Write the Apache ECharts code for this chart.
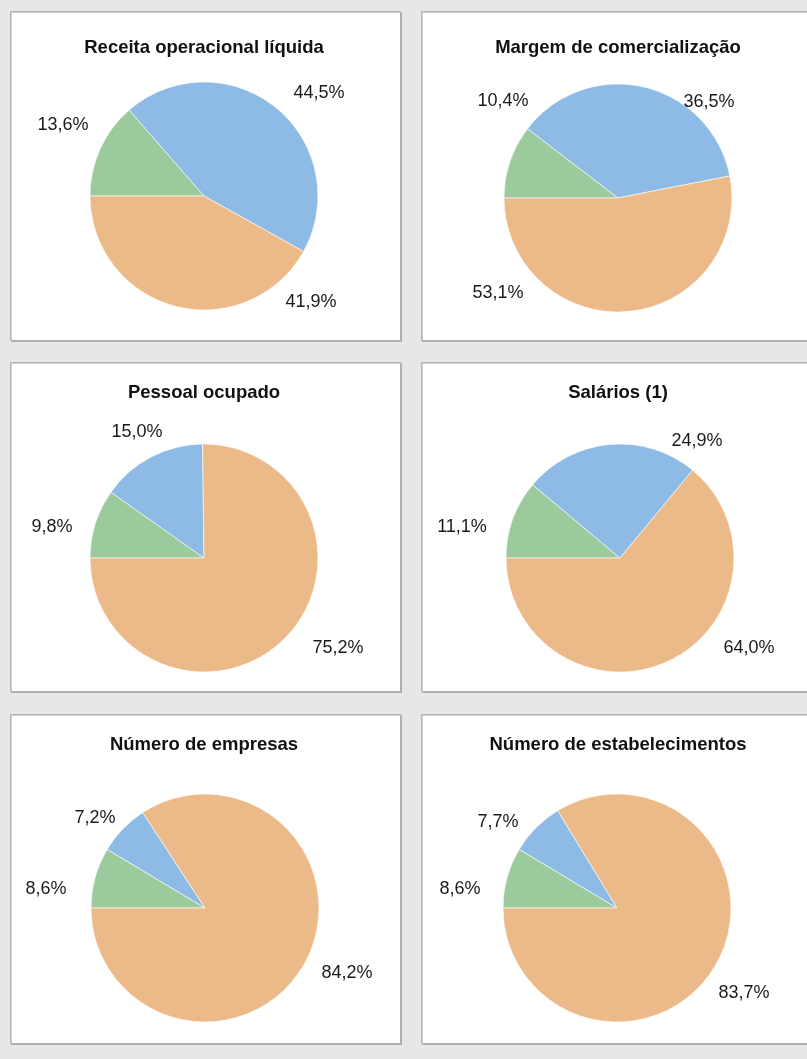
<!DOCTYPE html>
<html>
<head>
<meta charset="utf-8">
<script src="https://cdn.jsdelivr.net/npm/echarts@6/dist/echarts.min.js"></script>
<style>
html,body{margin:0;padding:0;background:#e6e7e9;}
#chart{width:807px;height:1059px;}
</style>
</head>
<body>
<div id="chart"></div>
<script>
// ---- data ----
const categories = ['Comércio de veículos, peças e motocicletas', 'Comércio por atacado', 'Comércio varejista'];
const titles = ['Receita operacional líquida', 'Margem de comercialização', 'Pessoal ocupado', 'Salários (1)', 'Número de empresas', 'Número de estabelecimentos'];
const veiculos = [13.6, 10.4, 9.8, 11.1, 8.6, 8.6];
const atacado = [44.5, 36.5, 15.0, 24.9, 7.2, 7.7];
const varejo = [41.9, 53.1, 75.2, 64.0, 84.2, 83.7];

// ---- layout / style ----
const colors = ['#9bca9d', '#8ebbe5', '#ecba88'];
const FONT = '"Liberation Sans", Arial, Helvetica, sans-serif';
const panels = [
  {x: 10, y: 11}, {x: 421, y: 11},
  {x: 10, y: 362}, {x: 421, y: 362},
  {x: 10, y: 714}, {x: 421, y: 714}
];
const PANEL_W = 390, PANEL_H = 329;
const titleY = [48, 48, 393, 393, 745, 745];
const titleX = [204, 618, 204, 618, 204, 618];
const centers = [[204, 196], [618, 198], [204, 558], [620, 558], [205, 908], [617, 908]];
const RADIUS = 114;
// label offsets from pie centre: [green, blue, orange]
const labelOff = [
  [[-141, -71], [115, -103], [107, 106]],
  [[-115, -97], [91, -96], [-120, 95]],
  [[-152, -31], [-67, -126], [134, 90]],
  [[-158, -31], [77, -117], [129, 90]],
  [[-159, -19], [-110, -90], [142, 65]],
  [[-157, -19], [-119, -86], [127, 85]]
];

const fmt = v => v.toFixed(1).replace('.', ',') + '%';

const graphics = [];
panels.forEach((p, i) => {
  graphics.push({
    type: 'rect', z: 0, silent: true,
    shape: {x: p.x + 0.5, y: p.y + 0.5, width: PANEL_W, height: PANEL_H},
    style: {fill: '#ffffff', stroke: '#b3b3b3', lineWidth: 1,
      shadowColor: 'rgba(0,0,0,0.18)', shadowOffsetX: 1, shadowOffsetY: 1, shadowBlur: 0}
  });
  graphics.push({
    type: 'text', z: 10, silent: true,
    x: titleX[i], y: titleY[i],
    style: {text: titles[i], fill: '#111', font: 'bold 18.5px ' + FONT, align: 'center', verticalAlign: 'middle'}
  });
});

const series = titles.map((t, i) => {
  const c = centers[i];
  const vals = [veiculos[i], atacado[i], varejo[i]];
  return {
    type: 'pie',
    z: 5,
    center: c,
    radius: RADIUS,
    startAngle: 180,
    clockwise: true,
    avoidLabelOverlap: false,
    silent: true,
    animation: false,
    data: vals.map((v, k) => ({name: categories[k], value: v, itemStyle: {color: colors[k]}})),
    itemStyle: {borderColor: '#ffffff', borderWidth: 0.6},
    label: {
      show: true, position: 'outside',
      formatter: p => fmt(p.value),
      fontFamily: FONT, fontSize: 18, color: '#1a1a1a'
    },
    labelLine: {show: false},
    labelLayout: function (params) {
      const o = labelOff[i][params.dataIndex];
      return {x: c[0] + o[0], y: c[1] + o[1], align: 'center', verticalAlign: 'middle'};
    },
    emphasis: {disabled: true}
  };
});

const chart = echarts.init(document.getElementById('chart'), null, {renderer: 'canvas'});
chart.setOption({
  backgroundColor: '#e6e7e9',
  animation: false,
  graphic: graphics,
  series: series
});
</script>
</body>
</html>
